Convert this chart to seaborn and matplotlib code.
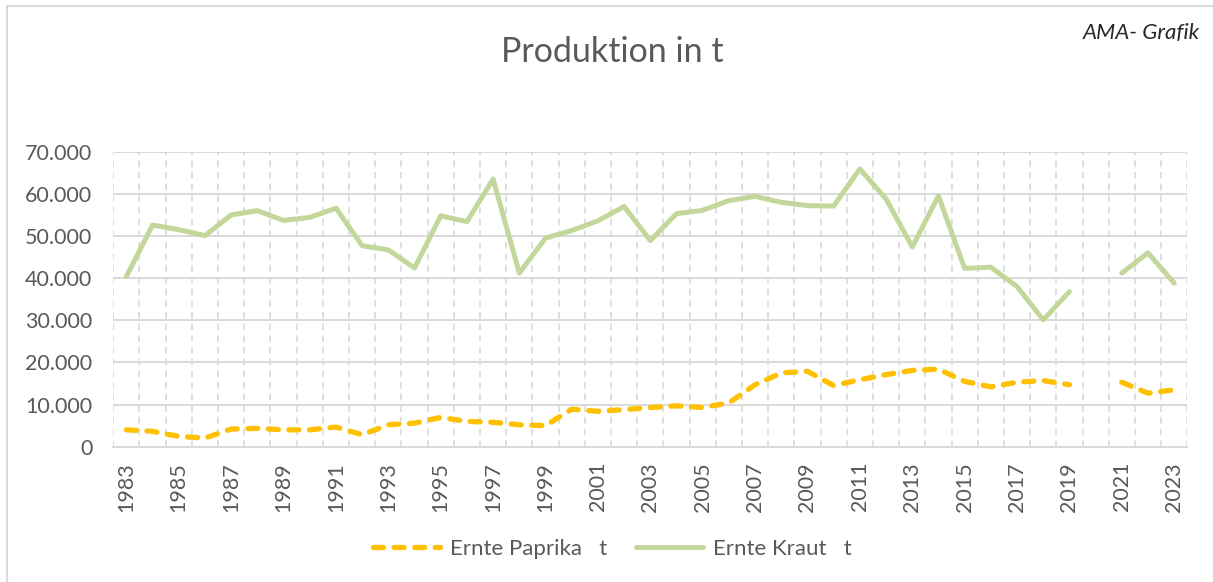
import numpy as np
import pandas as pd
import matplotlib.pyplot as plt
import seaborn as sns
from matplotlib.patches import Rectangle
from matplotlib.ticker import FuncFormatter

# Jahre und Ernte in Tonnen (2020 fehlt)
years = list(range(1983, 2024))
paprika = [4000, 3650, 2450, 2050, 4200, 4350, 4000, 4000, 4650, 2850,
           5200, 5600, 6950, 6000, 5800, 5200, 5000, 8900, 8400, 8800,
           9300, 9700, 9300, 10400, 14700, 17500, 17900, 14500, 15900, 17100,
           18100, 18400, 15500, 14200, 15300, 15700, 14700, np.nan, 15300, 12700,
           13500]
kraut = [40400, 52600, 51500, 50100, 55000, 56000, 53700, 54400, 56600, 47700,
         46700, 42400, 54800, 53400, 63500, 41200, 49500, 51300, 53600, 57000,
         48900, 55300, 56100, 58400, 59400, 58000, 57200, 57100, 65900, 58800,
         47400, 59500, 42300, 42600, 38000, 30100, 36800, np.nan, 41200, 46000,
         38800]

label_paprika = 'Ernte Paprika   t'
label_kraut = 'Ernte Kraut   t'

df = pd.DataFrame({'idx': range(len(years)), 'Paprika': paprika, 'Kraut': kraut})
# split into segments at the missing year so the lines break there
df['seg'] = df['Kraut'].isna().cumsum()

sns.set_style('white')
plt.rcParams['font.family'] = ['Lato', 'DejaVu Sans']

text_col = '#595959'
grid_col = '#d9d9d9'

fig = plt.figure(figsize=(12.13, 5.82), dpi=100)
ax = fig.add_axes([113.3 / 1213, 1 - 446.7 / 582, (1187.3 - 113.3) / 1213, (446.7 - 151.7) / 582])

# border around the chart
fig.patches.append(Rectangle((7 / 1213, -0.1), 1.2, 1 - 6 / 582 + 0.1, transform=fig.transFigure,
                             fill=False, edgecolor=grid_col, linewidth=1.5))

sns.lineplot(data=df.dropna(subset=['Paprika']), x='idx', y='Paprika', units='seg', estimator=None,
             ax=ax, color='#FFC000', linewidth=3.8, label=label_paprika)
n_pap = len(ax.lines)
sns.lineplot(data=df.dropna(subset=['Kraut']), x='idx', y='Kraut', units='seg', estimator=None,
             ax=ax, color='#C4D79B', linewidth=3.6, label=label_kraut)

for i, ln in enumerate(ax.lines):
    ln.set_solid_capstyle('round')
    ln.set_solid_joinstyle('round')
    if i < n_pap:
        ln.set_dashes([1.9, 2.0])
        ln.set_dash_capstyle('round')

n = len(years)
ax.set_xlim(-0.5, n - 0.5)
ax.set_ylim(0, 70000)
ax.set_yticks(range(0, 70001, 10000))
ax.yaxis.set_major_formatter(FuncFormatter(lambda v, p: f'{int(v):,}'.replace(',', '.')))

# vertical dashed grid at category boundaries
for b in np.arange(-0.5, n, 1.0):
    ax.axvline(b, color=grid_col, linewidth=1.2, linestyle=(0, (4, 3)), zorder=0)
ax.yaxis.grid(True, color=grid_col, linewidth=1.4, zorder=0)
ax.xaxis.grid(False)

ax.set_xticks(range(0, n, 2))
ax.set_xticklabels([str(y) for y in years[::2]], rotation=90)
ax.tick_params(axis='x', length=0, pad=11, labelsize=15.5, colors=text_col)
ax.tick_params(axis='y', length=0, pad=15, labelsize=15.5, colors=text_col)
ax.set_xlabel('')
ax.set_ylabel('')

for side in ['left', 'top', 'right']:
    ax.spines[side].set_visible(False)
ax.spines['bottom'].set_color(grid_col)
ax.spines['bottom'].set_linewidth(1.4)

fig.text(0.505, 1 - 52 / 582, 'Produktion in t', ha='center', va='center',
         fontsize=24.5, color=text_col)
fig.text(1200 / 1213, 1 - 33 / 582, 'AMA- Grafik', ha='right', va='center',
         fontsize=16, style='italic', color='#262626')

handles, labels = ax.get_legend_handles_labels()
leg = ax.legend(handles[:1] + handles[-1:], [label_paprika, label_kraut], loc='center',
                bbox_to_anchor=(0.505, 1 - 549 / 582), bbox_transform=fig.transFigure,
                ncol=2, frameon=False, fontsize=16, handlelength=3.0, columnspacing=1.3,
                handletextpad=0.45)
for t in leg.get_texts():
    t.set_color(text_col)

fig.savefig('out.png', dpi=100)
